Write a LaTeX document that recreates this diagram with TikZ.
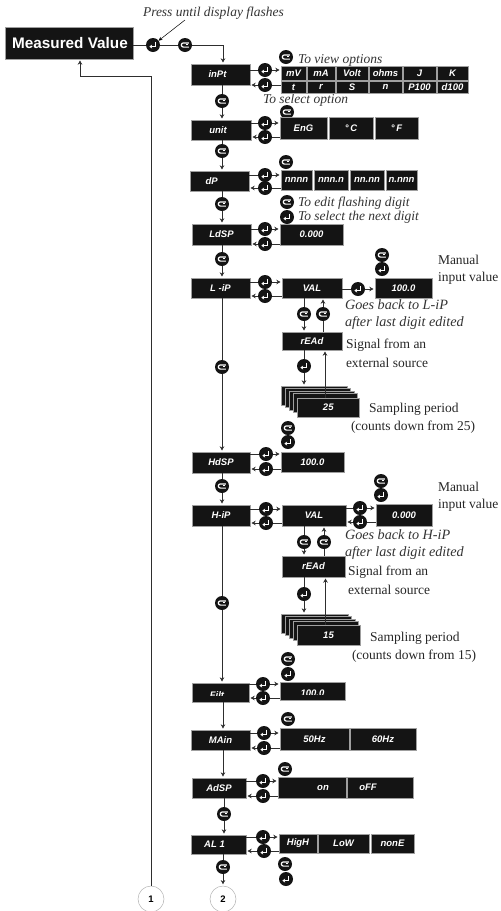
\documentclass[tikz,border=0pt]{standalone}
\usepackage{fontspec}
\setmainfont{Liberation Serif}
\setsansfont{Liberation Sans}
\usetikzlibrary{arrows.meta}
\definecolor{ink}{HTML}{141414}
\definecolor{wire}{HTML}{2E2E2E}
\definecolor{notec}{HTML}{333333}
\tikzset{
  x=1pt,y=-1pt,
  dbox/.style={rectangle,fill=ink,draw=gray!75,line width=0.5pt,inner sep=0pt,outer sep=0pt,text=white,
     font=\sffamily\bfseries\itshape\fontsize{9.5}{10}\selectfont},
  btnbase/.style={circle,fill=ink,draw=none,minimum size=14pt,inner sep=0pt,outer sep=0pt},
  enterbtn/.style={btnbase,path picture={
     \draw[white,line width=1.3pt,-{Stealth[length=2.8pt,width=4pt]},shift={(path picture bounding box.center)}]
       (2.8pt,3.2pt) -- (2.8pt,-1.6pt) -- (-3.6pt,-1.6pt);}},
  scrollbtn/.style={btnbase,path picture={
     \draw[white,line width=1.2pt,shift={(path picture bounding box.center)}]
       (3.8pt,2.1pt) -- (-1.6pt,2.1pt) arc[start angle=90,end angle=270,radius=2.1pt] -- (3.8pt,-2.1pt);
     \draw[white,line width=1pt,shift={(path picture bounding box.center)}] (3pt,0.6pt) -- (0.6pt,0.6pt);}},
  ln/.style={draw=wire,line width=1pt},
  arr/.style={ln,-{Stealth[length=4.2pt,width=4.6pt]},shorten >=1.5pt},
  thinarr/.style={arr,line width=0.7pt},
  note/.style={anchor=west,inner sep=0pt,outer sep=0pt,text=notec,font=\itshape\fontsize{13.5}{14}\selectfont},
  wnote/.style={note,font=\itshape\fontsize{14.2}{15}\selectfont},
  plain/.style={anchor=west,inner sep=0pt,outer sep=0pt,text=black!85,font=\fontsize{13.5}{14}\selectfont},
  numcirc/.style={circle,draw=gray!60,line width=0.5pt,fill=white,minimum size=26pt,inner sep=0pt,
     font=\sffamily\bfseries\fontsize{9.5}{10}\selectfont},
}
\newcommand{\Bx}[6]{\node[dbox,minimum width={(#4-#2)*1pt},minimum height={(#5-#3)*1pt}] (#1) at ({(#2+#4)/2},{(#3+#5)/2}) {#6};}
\newcommand{\En}[3]{\node[enterbtn] (#1) at (#2,#3) {};}
\newcommand{\Sc}[3]{\node[scrollbtn] (#1) at (#2,#3) {};}
\newcommand{\Pair}[4]{%
  \draw[ln] (#1.east |- #2) -- (#2); \draw[arr] (#2) -- (#4.west |- #2);
  \draw[ln] (#4.west |- #3) -- (#3); \draw[arr] (#3) -- (#1.east |- #3);}
\newcommand{\Dn}[3]{\draw[ln] (#1.south -| #2) -- (#2); \draw[arr] (#2) -- (#3.north -| #2);}
\newcommand{\Low}[2]{\raisebox{-#1pt}[0pt][0pt]{#2}}
\begin{document}
\begin{tikzpicture}
\useasboundingbox (0,0) rectangle (501,911);
\coordinate (cx) at (223,0);
\coordinate (rt) at (80,76);
% main value
\node[dbox,minimum width=128pt,minimum height=32pt,font=\sffamily\bfseries\fontsize{15.3}{16}\selectfont] (mv) at (69,43) {\hspace*{2pt}Measured Value};
\node[note,anchor=west] (press) at (143,13) {Press until display flashes};
\En{en0}{153}{45}\Sc{sc0}{185}{45}
\draw[ln] (mv.east |- en0) -- (en0);
\draw[ln] (en0) -- (sc0);
\draw[arr] (sc0) -| (cx |- 0,64);
\coordinate (pressend) at (185,20);
\draw[line width=0.5pt,-{Stealth[length=4pt,width=3.5pt]}] (pressend) -- (en0);
% left column
\Bx{inPt}{191}{64}{250}{85}{\hspace*{-6pt}inPt}
\Sc{sc1}{222}{101}
\Bx{unit}{191}{120}{251}{140}{\hspace*{-6pt}unit}
\Sc{sc2}{222}{151}
\Bx{dP}{190.5}{171}{249}{191}{\hspace*{-16pt}dP}
\Sc{sc3}{222}{204}
\Bx{LdSP}{192}{224}{251}{245}{LdSP}
\Sc{sc4}{222}{259}
\Bx{LiP}{191}{278}{250}{298}{L -iP}
\Sc{sc5}{222}{367}
\Bx{HdSP}{192}{452}{250}{473}{HdSP}
\Sc{sc6}{222}{486}
\Bx{HiP}{192}{505}{250}{526}{H-iP}
\Sc{sc7}{222}{603}
\Bx{Filt}{192}{683}{249}{702}{\hspace*{-7pt}\Low{5.5}{Filt}}
\fill[ink] (192.5,696.4) rectangle (248.5,701.6);
\Bx{MAin}{191}{730}{250}{750}{MAin}
\Bx{AdSP}{192}{778}{246}{798}{AdSP}
\Sc{sc8}{224}{814}
\Bx{ALone}{191}{835}{246}{854}{\hspace*{-8pt}AL 1}
\Sc{sc9}{223}{867}
\node[numcirc] (c1) at (151,899) {1};
\node[numcirc] (c2) at (223,899) {2};
\Dn{inPt}{sc1}{unit}
\Dn{unit}{sc2}{dP}
\Dn{dP}{sc3}{LdSP}
\Dn{LdSP}{sc4}{LiP}
\Dn{LiP}{sc5}{HdSP}
\Dn{HdSP}{sc6}{HiP}
\Dn{HiP}{sc7}{Filt}
\draw[arr] (Filt.south -| cx) -- (MAin.north -| cx);
\draw[arr] (MAin.south -| cx) -- (AdSP.north -| cx);
\Dn{AdSP}{sc8}{ALone}
\Dn{ALone}{sc9}{c2}
\draw[arr] (c1.north) |- (rt) -- (mv.south -| rt);
% inPt options
\Sc{sv1}{286}{57}
\node[note] (t1) at (298,60) {To view options};
\node[note] (t2) at (263,100) {To select option};
\Sc{sv2}{287}{112}
\foreach \nm/\a/\b/\ta/\tb in {a/281/306/mV/t,b/307/335/mA/r,c/336/368/Volt/S,d/369/402/ohms/n,e/403/436/J/P100,f/437/468/K/d100}{
  \Bx{up\nm}{\a}{66}{\b}{80}{\ta}
  \Bx{lo\nm}{\a}{81}{\b}{93}{\tb}
}
\En{e1a}{265}{70}\En{e1b}{265}{85}
\draw[ln] (inPt.east |- e1a) -- (e1a); \draw[arr] (e1a) -- (upa.west |- e1a);
\draw[ln] (loa.west |- e1b) -- (e1b); \draw[arr] (e1b) -- (inPt.east |- e1b);
% unit options
\Bx{ua}{280}{117}{327}{139}{EnG}
\Bx{ub}{329}{117}{373}{139}{°\,C}
\Bx{uc}{375}{117}{418}{139}{°\,F}
\En{e2a}{265}{123}\En{e2b}{265}{137}
\Pair{unit}{e2a}{e2b}{ua}
% dP options
\Sc{sv3}{286}{162}
\Bx{da}{281}{170}{312}{190}{nnnn}
\Bx{db}{314}{170}{348}{190}{nnn.n}
\Bx{dc}{350}{170}{384}{190}{nn.nn}
\Bx{dd}{386}{170}{417}{190}{n.nnn}
\En{e3a}{265}{175}\En{e3b}{265}{188}
\Pair{dP}{e3a}{e3b}{da}
% edit legend
\Sc{sv4}{287}{202}
\En{ev4}{287}{217}
\node[note] (t3) at (298,203) {To edit flashing digit};
\node[note] (t4) at (298,217) {To select the next digit};
\Bx{ld}{280}{224}{343}{245}{0.000}
\En{e4a}{265}{229}\En{e4b}{265}{244}
\Pair{LdSP}{e4a}{e4b}{ld}
% L-iP
\Bx{val}{282}{278}{342}{298}{VAL}
\En{e5a}{265}{282}\En{e5b}{265}{296}
\Pair{LiP}{e5a}{e5b}{val}
\Bx{man}{375}{278}{432}{298}{100.0}
\En{e6}{358}{289}
\draw[ln] (val.east |- e6) -- (e6); \draw[arr] (e6) -- (man.west |- e6);
\Sc{sv5}{382}{255}\En{ev5}{382}{269}
\node[plain] (t5) at (438,260) {Manual};
\node[plain] (t6) at (438,278) {input value};
\node[wnote] (t7) at (345,305) {Goes back to L-iP};
\node[wnote] (t8) at (345,323) {after last digit edited};
\Bx{rd}{282}{332}{342}{350}{rEAd}
\Sc{s10}{304}{314}\Sc{s11}{323}{314}
\draw[ln] (val.south -| s10) -- (s10); \draw[arr] (s10) -- (rd.north -| s10);
\draw[ln] (rd.north -| s11) -- (s11); \draw[arr] (s11) -- (val.south -| s11);
\node[plain] (t9) at (346,345) {Signal from an};
\node[plain] (t10) at (346,363) {external source};
\En{e7}{304}{366}
\draw[ln] (rd.south -| e7) -- (e7);
\Bx{sa}{281}{386}{347}{405}{}
\Bx{sb}{285}{388.5}{350}{407.5}{}
\Bx{sc}{289}{391}{354}{410}{}
\Bx{sd}{293}{393.5}{357}{412.5}{}
\Bx{se}{297}{398}{359.5}{417}{25}
\draw[arr] (e7) -- (sa.north -| e7);
\draw[thinarr] (se.north -| 325,0) -- (rd.south -| 325,0);
\node[plain] (t11) at (369,409) {Sampling period};
\node[plain] (t12) at (351,427) {(counts down from 25)};
\Sc{sv6}{288}{428}\En{ev6}{288}{442}
% HdSP
\Bx{hd}{281}{452}{344}{472}{100.0}
\En{e8a}{266}{454}\En{e8b}{266}{469}
\Pair{HdSP}{e8a}{e8b}{hd}
% H-iP
\Bx{hval}{282}{505}{346}{526}{VAL}
\En{e9a}{266}{509}\En{e9b}{266}{523}
\Pair{HiP}{e9a}{e9b}{hval}
\Bx{hman}{376}{504}{432}{526}{0.000}
\En{e10a}{360}{508}\En{e10b}{360}{522}
\Pair{hval}{e10a}{e10b}{hman}
\Sc{sv7}{381}{481}\En{ev7}{381}{495}
\node[plain] (t13) at (438,487) {Manual};
\node[plain] (t14) at (438,505) {input value};
\node[wnote] (t15) at (345,535) {Goes back to H-iP};
\node[wnote] (t16) at (345,553) {after last digit edited};
\Bx{hrd}{282}{556}{345}{577}{rEAd}
\Sc{s12}{304}{542}\Sc{s13}{324}{542}
\draw[ln] (hval.south -| s12) -- (s12); \draw[arr] (s12) -- (hrd.north -| s12);
\draw[ln] (hrd.north -| s13) -- (s13); \draw[arr] (s13) -- (hval.south -| s13);
\node[plain] (t17) at (348,572) {Signal from an};
\node[plain] (t18) at (348,590) {external source};
\En{e11}{304}{594}
\draw[ln] (hrd.south -| e11) -- (e11);
\Bx{ha}{281}{614}{348}{633}{}
\Bx{hb}{285}{616.5}{351}{635.5}{}
\Bx{hc}{289}{619}{355}{638}{}
\Bx{hdd}{293}{621.5}{358}{640.5}{}
\Bx{he}{297}{625}{360}{645}{15}
\draw[arr] (e11) -- (ha.north -| e11);
\draw[thinarr] (he.north -| 325.5,0) -- (hrd.south -| 325.5,0);
\node[plain] (t19) at (370,638) {Sampling period};
\node[plain] (t20) at (352,656) {(counts down from 15)};
\Sc{sv8}{288}{659}\En{ev8}{288}{674}
% Filt
\Bx{fv}{280}{682}{345}{700}{\Low{5}{100.0}}
\fill[ink] (280.5,694.8) rectangle (344.5,699.6);
\En{e12a}{263}{684}\En{e12b}{263}{698}
\Pair{Filt}{e12a}{e12b}{fv}
% MAin
\Sc{sv9}{288}{719}
\Bx{ma}{280}{728}{349}{750}{50Hz}
\Bx{mb}{350}{728}{416}{750}{60Hz}
\En{e13a}{264}{733}\En{e13b}{264}{748}
\Pair{MAin}{e13a}{e13b}{ma}
% AdSP
\Sc{sv10}{285}{769}
\Bx{aa}{278}{777}{346}{798}{\hspace*{22pt}on}
\Bx{ab}{347}{777}{413}{798}{oFF\hspace*{24pt}}
\En{e14a}{263}{781}\En{e14b}{263}{796}
\Pair{AdSP}{e14a}{e14b}{aa}
% AL 1
\Bx{la}{279}{834}{317}{853}{HigH}
\Bx{lb}{318}{834}{369}{853}{LoW}
\Bx{lc}{371}{834}{414}{853}{nonE}
\En{e15a}{263}{837}\En{e15b}{264}{851}
\Pair{ALone}{e15a}{e15b}{la}
\Sc{sv11}{285}{864}\En{ev11}{286}{879}
\end{tikzpicture}
\end{document}
